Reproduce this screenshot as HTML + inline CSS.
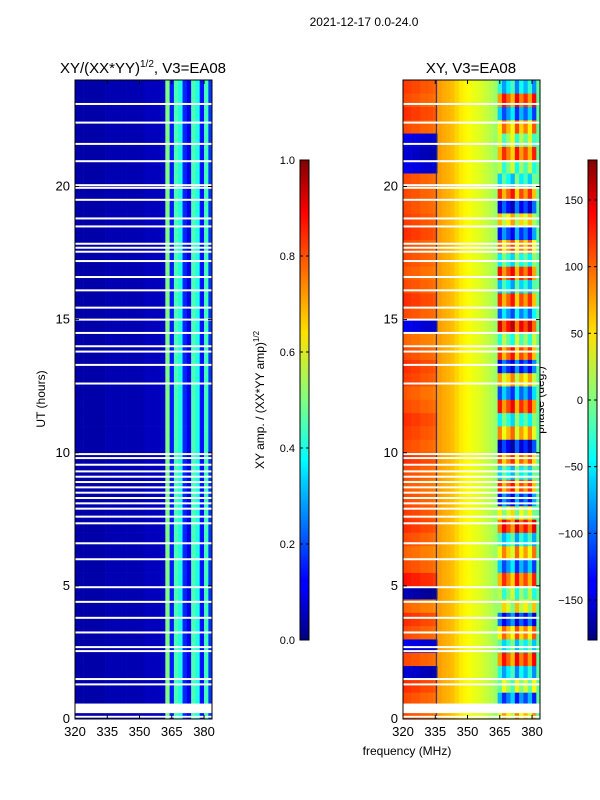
<!DOCTYPE html>
<html><head><meta charset="utf-8">
<style>
html,body{margin:0;padding:0;background:#fff;width:600px;height:800px;overflow:hidden}
svg{display:block;font-family:"Liberation Sans","DejaVu Sans",sans-serif}
</style></head>
<body>
<svg id="fig" width="600" height="800" viewBox="0 0 600 800" xmlns="http://www.w3.org/2000/svg">
<defs>
<linearGradient id="jet" x1="0" y1="1" x2="0" y2="0">
<stop offset="0" stop-color="#000080"/><stop offset="0.11" stop-color="#0000ff"/>
<stop offset="0.125" stop-color="#0000ff"/><stop offset="0.34" stop-color="#00d8ff"/>
<stop offset="0.375" stop-color="#00ffff"/><stop offset="0.5" stop-color="#80ff80"/>
<stop offset="0.64" stop-color="#ffe000"/><stop offset="0.66" stop-color="#ffd000"/>
<stop offset="0.89" stop-color="#ff0000"/><stop offset="1" stop-color="#800000"/>
</linearGradient>
</defs>
<text x="364" y="26" font-size="12" text-anchor="middle">2021-12-17 0.0-24.0</text>
<text x="143" y="73" font-size="15" text-anchor="middle">XY/(XX*YY)<tspan font-size="10" dy="-6">1/2</tspan><tspan dy="6">, V3=EA08</tspan></text>
<text x="471" y="73" font-size="15" text-anchor="middle">XY, V3=EA08</text>
<text transform="translate(45,399) rotate(-90)" font-size="12" text-anchor="middle">UT (hours)</text>
<text x="407" y="755" font-size="12" text-anchor="middle">frequency (MHz)</text>
<text transform="translate(264,400) rotate(-90)" font-size="12" text-anchor="middle">XY amp. / (XX*YY amp)<tspan font-size="8" dy="-5">1/2</tspan></text>
<text transform="translate(544,400) rotate(-90)" font-size="12" text-anchor="middle">phase (deg.)</text>
<g id="gl"></g>
<g id="gr"></g>
<g id="axes"></g>
</svg>
<script>
// ---- data ----
const channelStartsMHz = [320,322,324,326,328,330,332,334,336,338,340,342,344,346,348,350,352,354,356,358,360,362,364,366,368,370,372,374,376,378,380,382];
const ampByChannel = [0.04,0.04,0.04,0.04,0.04,0.04,0.04,0.05,0.05,0.05,0.05,0.05,0.05,0.05,0.05,0.05,0.06,0.06,0.06,0.06,0.07,0.50,0.15,0.45,0.40,0.16,0.10,0.45,0.40,0.14,0.44,0.18];
const phaseByChannel = [110,108,105,105,100,100,98,95,80,75,72,68,60,52,48,42,38,34,30,24,18,10,10,10,10,10,10,10,10,10,10,-10];
const rfiChannelShift = [0,0,0,0,0,0,0,0,0,0,0,0,0,0,0,0,0,0,0,0,0,0,30,-20,10,40,-30,20,-10,30,-25,0];
const rowHours = [0,0.5,1,1.5,2,2.5,3,3.5,4,4.5,5,5.5,6,6.5,7,7.5,8,8.5,9,9.5,10,10.5,11,11.5,12,12.5,13,13.5,14,14.5,15,15.5,16,16.5,17,17.5,18,18.5,19,19.5,20,20.5,21,21.5,22,22.5,23,23.5];
const rfiRowPhase = [60,-100,20,-60,110,-40,80,-120,40,-10,100,-90,70,-50,120,20,-100,90,-30,80,-130,60,-20,100,-80,50,-110,90,0,120,-70,90,-40,100,-20,70,-100,40,-120,90,-30,-10,100,0,80,-90,110,-60];
const leftRowPhase = [110,110,120,-150,110,-140,110,120,100,-160,130,110,100,110,120,115,110,105,110,120,110,115,120,110,105,115,120,110,100,-140,110,120,110,105,110,110,120,115,110,110,110,-140,-150,-140,110,120,110,115];
const flaggedHours = [1.3,1.5,2.55,2.7,3.25,3.8,4.4,4.95,6.0,6.6,7.35,7.6,7.9,8.1,8.3,8.5,8.7,8.9,9.1,9.3,9.55,9.8,9.95,12.6,13.3,13.8,14.0,14.5,15.0,15.45,16.1,16.6,17.2,17.55,17.7,17.85,18.5,18.8,19.5,19.95,20.05,20.95,21.6,22.4,23.1];
const flaggedBlocks = [[0.22,0.58],[0.05,0.12]];
const ampTicks = [0.0,0.2,0.4,0.6,0.8,1.0];
const phaseTicks = [-150,-100,-50,0,50,100,150];
const yTicks = [0,5,10,15,20];
const xTicks = [320,335,350,365,380];

// ---- scales ----
const NS='http://www.w3.org/2000/svg';
const L={x0:75,x1:212}, R={x0:403,x1:540}, Y0=719, Y1=80;
const fMin=320, fMax=383.7;
function xs(p,f){return p.x0+(f-fMin)/(fMax-fMin)*(p.x1-p.x0);}
function ys(h){return Y0-(h/24)*(Y0-Y1);}
function jet(v){v=Math.max(0,Math.min(1,v));const c=t=>Math.round(255*Math.max(0,Math.min(1,1.5-Math.abs(4*v-t))));return `rgb(${c(3)},${c(2)},${c(1)})`;}
function el(tag,attrs,parent){const e=document.createElementNS(NS,tag);for(const k in attrs)e.setAttribute(k,attrs[k]);parent.appendChild(e);return e;}
const gl=document.getElementById('gl'), gr=document.getElementById('gr'), ax=document.getElementById('axes');

rowHours.forEach((h,ri)=>{
  const ya=ys(h+0.5), yb=ys(h);
  channelStartsMHz.forEach((f,ci)=>{
    const xa=xs(L,f), xb=xs(L,Math.min(f+2,fMax));
    const a=el('rect',{x:xa,y:ya,width:xb-xa+0.3,height:yb-ya+0.3,fill:jet(ampByChannel[ci])},gl);
    
    
    let ph;
    if(ci>=22 && ci<31) ph=rfiRowPhase[ri]+rfiChannelShift[ci]*((ri%2)?1:-1);
    else if(ci<8) ph=leftRowPhase[ri]-(110-phaseByChannel[ci]);
    else ph=phaseByChannel[ci];
    if(ph>180)ph-=360; if(ph<-180)ph+=360;
    const xr=xs(R,f), xr2=xs(R,Math.min(f+2,fMax));
    const p=el('rect',{x:xr,y:ya,width:xr2-xr+0.3,height:yb-ya+0.3,fill:jet((ph+180)/360)},gr);
    
    
  });
});
el('line',{x1:xs(R,335.5),x2:xs(R,335.5),y1:Y1,y2:Y0,stroke:'#1a2a90','stroke-width':1},gr);
flaggedHours.forEach(h=>{
  [L,R].forEach(p=>{
    const r=el('rect',{x:p.x0,y:ys(h)-1,width:p.x1-p.x0,height:2,fill:'#fff'},ax);
    
    
  });
});
flaggedBlocks.forEach(b=>{
  [L,R].forEach(p=>{
    const r=el('rect',{x:p.x0,y:ys(b[1]),width:p.x1-p.x0,height:ys(b[0])-ys(b[1]),fill:'#fff'},ax);
    
    
  });
});
[L,R].forEach(p=>{
  el('rect',{x:p.x0,y:Y1,width:p.x1-p.x0,height:Y0-Y1,fill:'none',stroke:'#000','stroke-width':1},ax);
  yTicks.forEach(t=>{
    const y=ys(t);
    el('line',{x1:p.x0,x2:p.x0+4,y1:y,y2:y,stroke:'#000'},ax);
    el('line',{x1:p.x1,x2:p.x1-4,y1:y,y2:y,stroke:'#000'},ax);
    const tx=el('text',{x:p.x0-5,y:y+4,'font-size':13,'text-anchor':'end'},ax);
    tx.textContent=t;
    
    
  });
  xTicks.forEach(t=>{
    const x=xs(p,t);
    el('line',{x1:x,x2:x,y1:Y0,y2:Y0-4,stroke:'#000'},ax);
    el('line',{x1:x,x2:x,y1:Y1,y2:Y1+4,stroke:'#000'},ax);
    const tx=el('text',{x:x,y:Y0+17,'font-size':13,'text-anchor':'middle'},ax);
    tx.textContent=t;
    
    
  });
});
function colorbar(x,lo,hi,ticks,name){
  const r=el('rect',{x:x,y:160,width:9,height:480,fill:'url(#jet)',stroke:'#000','stroke-width':1},ax);
  
  
  ticks.forEach(t=>{
    const y=640-(t-lo)/(hi-lo)*480;
    el('line',{x1:x,x2:x+3,y1:y,y2:y,stroke:'#000'},ax);
    el('line',{x1:x+9,x2:x+6,y1:y,y2:y,stroke:'#000'},ax);
    const tx=el('text',{x:x-5,y:y+4,'font-size':11,'text-anchor':'end'},ax);
    tx.textContent=(name==='amp-colorbar')?t.toFixed(1):(t<0?'\u2212'+(-t):t);
    
    
  });
}
colorbar(300,0,1,ampTicks,'amp-colorbar');
colorbar(588,-180,180,phaseTicks,'phase-colorbar');
</script>
</body></html>
